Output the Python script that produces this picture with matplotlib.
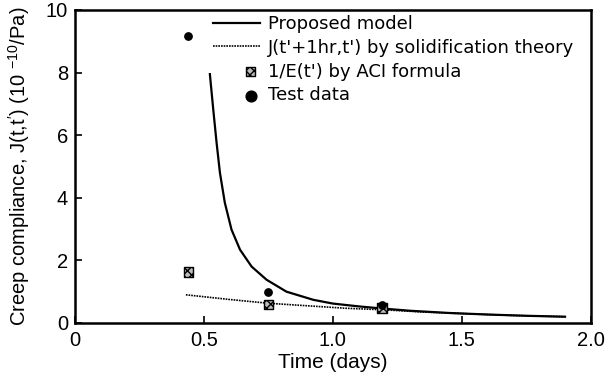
import matplotlib.pyplot as plt
from matplotlib.legend_handler import HandlerPathCollection

plt.rcParams['font.family'] = ['Liberation Sans', 'DejaVu Sans']
plt.rcParams['mathtext.fontset'] = 'custom'
plt.rcParams['mathtext.rm'] = 'Liberation Sans'

# Proposed model
model_t = [0.523, 0.536, 0.549, 0.562, 0.581, 0.607, 0.64, 0.685, 0.743, 0.82,
           0.924, 1.0, 1.1, 1.18, 1.3, 1.45, 1.6, 1.75, 1.9]
model_j = [7.95, 6.83, 5.76, 4.8, 3.84, 2.98, 2.34, 1.8, 1.38, 1.0,
           0.74, 0.62, 0.53, 0.47, 0.39, 0.32, 0.27, 0.23, 0.2]

# J(t'+1hr, t') by solidification theory
solid_t = [0.43, 0.6, 0.75, 0.9, 1.05, 1.2, 1.35, 1.5, 1.7, 1.9]
solid_j = [0.9, 0.75, 0.63, 0.55, 0.47, 0.42, 0.35, 0.3, 0.24, 0.2]

# 1/E(t') by ACI formula
aci_t = [0.44, 0.75, 1.19]
aci_j = [1.63, 0.58, 0.48]

# Test data
test_t = [0.44, 0.75, 1.19]
test_j = [9.17, 0.99, 0.57]


# legend markers sit near the right end of the handle, like the original
class RightMarker(HandlerPathCollection):
    def get_xdata(self, legend, xdescent, ydescent, width, height, fontsize):
        x = -xdescent + width * 0.8
        return [x], [x]


fig = plt.figure(figsize=(6.11, 3.82), dpi=100)
ax = fig.add_axes([0.1227, 0.1545, 0.8443, 0.8195])

ax.plot(model_t, model_j, color='black', lw=1.6, label='Proposed model')
ax.plot(solid_t, solid_j, color='black', lw=1.2, ls=(0, (1, 0.6)),
        label="J(t'+1hr,t') by solidification theory")
sq = ax.scatter(aci_t, aci_j, marker='s', s=45, facecolor='#bbbbbb', edgecolor='black',
                hatch='xxxx', lw=1.0, zorder=3, label="1/E(t') by ACI formula")
dots = ax.scatter(test_t, test_j, marker='o', s=28, color='black', zorder=4,
                  label='Test data')

ax.set_xlim(0, 2.0)
ax.set_ylim(0, 10)
ax.set_xticks([0, 0.5, 1.0, 1.5, 2.0])
ax.set_xticklabels(['0', '0.5', '1.0', '1.5', '2.0'])
ax.set_yticks([0, 2, 4, 6, 8, 10])
ax.tick_params(direction='in', length=5, width=1.2, labelsize=14.5)
ax.tick_params(axis='x', pad=6)
ax.tick_params(axis='y', pad=5)
for s in ax.spines.values():
    s.set_linewidth(1.8)

ax.set_xlabel('Time (days)', fontsize=15, labelpad=2)
ax.set_ylabel("Creep compliance, J(t,t$'$) (10 $^{-10}$/Pa)", fontsize=14.5)
ax.yaxis.set_label_coords(-0.083, 0.5)

leg = ax.legend(loc='upper left', bbox_to_anchor=(213 / 611, 1 - 15 / 382),
                bbox_transform=fig.transFigure, frameon=False,
                prop={'family': 'DejaVu Sans', 'size': 13},
                handlelength=2.6, handletextpad=0.45, labelspacing=0.32,
                borderpad=0, borderaxespad=0,
                handler_map={sq: RightMarker(sizes=[40]), dots: RightMarker(sizes=[60])})

plt.savefig('out.png', dpi=100)
